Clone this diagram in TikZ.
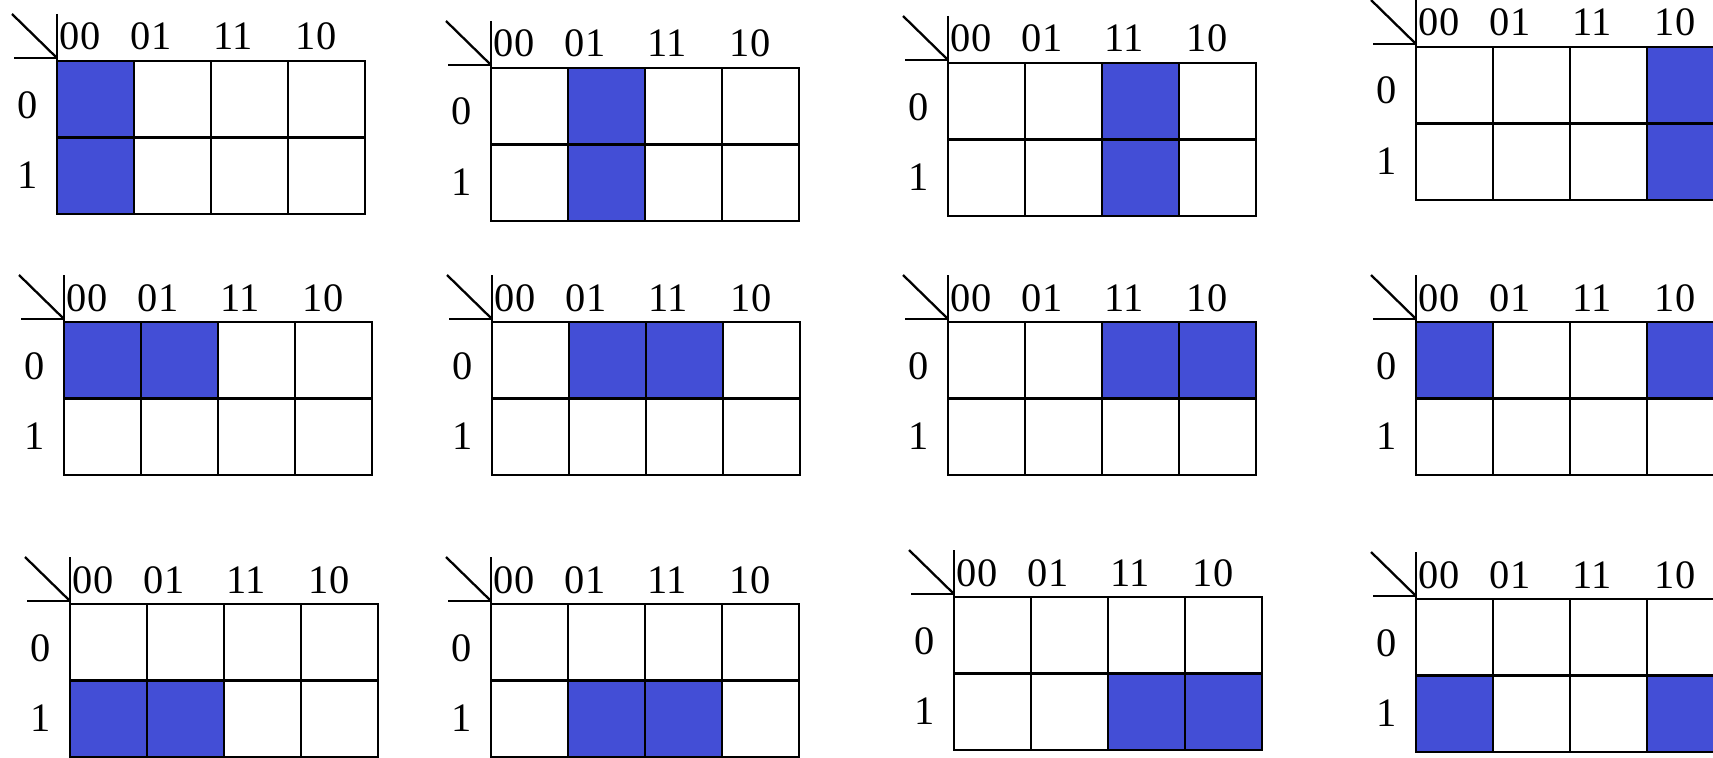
\documentclass[tikz,border=0pt]{standalone}
\usepackage{fontspec}
\setmainfont{Liberation Serif}
\usepackage{xcolor}
\usepackage{tikz}
\definecolor{kblue}{RGB}{67,78,214}

\begin{document}
\begin{tikzpicture}[x=0.02cm, y=-0.02cm,
    cellline/.style={line width=1.3pt, black},
    onecell/.style={fill=kblue},
    lbl/.style={font=\fontsize{23}{27}\selectfont, anchor=base, inner sep=0pt}]
  % Page
  \useasboundingbox (0,0) rectangle (1713,757);
  \clip (0,0) rectangle (1713,757);
  % Maps: grid corner, then the two shaded cells as row/col
  \foreach \L/\T/\ra/\ca/\rb/\cb [count=\m] in {
      57/61/0/0/1/0, 491/68/0/1/1/1, 948/63/0/2/1/2, 1416/47/0/3/1/3,
      64/322/0/0/0/1, 492/322/0/1/0/2, 948/322/0/2/0/3, 1416/322/0/0/0/3,
      70/604/1/0/1/1, 491/604/1/1/1/2, 954/597/1/2/1/3, 1416/599/1/0/1/3}{
    \begin{scope}[shift={(\L,\T)}]
      % Shaded cells
      \fill[onecell] (\ca*77,\ra*76.5) rectangle ++(77,76.5);
      \fill[onecell] (\cb*77,\rb*76.5) rectangle ++(77,76.5);
      % Cells
      \foreach \c in {0,...,3}{
        \foreach \r in {0,1}{
          \draw[cellline] (\c*77,\r*76.5) rectangle ++(77,76.5);
        }
      }
      % Corner
      \draw[cellline] (-45,-47) -- (0,-3);
      \draw[cellline] (-43,-3) -- (0,-3);
      \draw[cellline] (0,-47) -- (0,0);
      % Labels
      \node[lbl] (col\m-00) at (23,-11) {00};
      \node[lbl] (col\m-01) at (94,-11) {01};
      \node[lbl] (col\m-11) at (176,-11) {11};
      \node[lbl] (col\m-10) at (259,-11) {10};
      \node[lbl] (row\m-0) at (-29,57) {0};
      \node[lbl] (row\m-1) at (-29,127) {1};
    \end{scope}
  }
\end{tikzpicture}
\end{document}
